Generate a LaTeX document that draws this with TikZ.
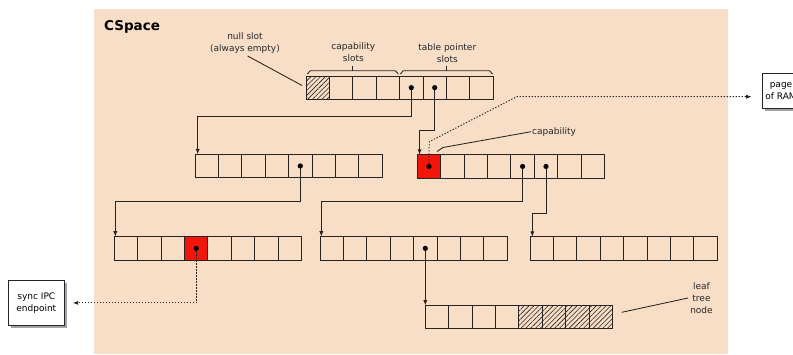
\documentclass[tikz,border=0pt]{standalone}
\usepackage{fontspec}
\setmainfont{DejaVu Sans}
\usetikzlibrary{arrows.meta,patterns.meta,shadows,calc}
\definecolor{bgc}{RGB}{249,222,199}
\definecolor{redc}{RGB}{240,22,10}
\definecolor{linec}{RGB}{40,35,33}
\tikzset{
  cell/.style={draw=linec, line width=0.85pt, minimum width=23.4pt, minimum height=23.3pt,
    inner sep=0pt, outer sep=0pt, anchor=north west},
  hatch/.style={pattern={Lines[angle=45,distance=3.4pt,line width=0.6pt]}, pattern color=linec},
  conn/.style={draw=linec, line width=0.95pt},
  arr/.style={conn, -{Latex[length=5.5pt,width=4.2pt]}},
  darr/.style={draw=linec, line width=1pt, dash pattern=on 1.2pt off 1.8pt, -{Latex[length=5.5pt,width=4.2pt]}},
  lead/.style={draw=linec, line width=0.85pt},
  lbl/.style={font=\fontsize{9}{12}\selectfont, align=center, inner sep=1pt, text=black!85},
  extbox/.style={draw=linec, line width=0.85pt, fill=white, font=\fontsize{9}{12}\selectfont,
    align=center, inner sep=0pt,
    drop shadow={shadow xshift=2.5pt, shadow yshift=-2.5pt, fill=black!60, opacity=0.6}},
}
\newcommand\slottable[3]{\foreach \i in {0,...,7}{\node[cell] (#1\i) at ({#2+\i*23.4},#3) {};}}
\begin{document}
\begin{tikzpicture}[x=1pt,y=-1pt]
\useasboundingbox (0,0) rectangle (793,354);
\fill[bgc] (93.5,9.3) rectangle (728,354);
\node[font=\fontsize{13.5}{16}\selectfont\bfseries, anchor=base west, inner sep=0pt] (title) at (104,30.3) {CSpace};

% tables
\slottable{ta}{306}{76}
\slottable{tb}{195}{154.3}
\slottable{tc}{417.3}{154.8}
\slottable{td}{114.3}{236.7}
\slottable{te}{320}{236.7}
\slottable{tf}{530}{236.8}
\slottable{tg}{425.3}{305.5}

% special cells
\node[cell, hatch] (h0) at (ta0.north west) {};
\node[cell, fill=redc] (r1) at (tc0.north west) {};
\node[cell, fill=redc] (r2) at (td3.north west) {};
\foreach \i in {4,...,7}{\node[cell, hatch] (hg\i) at (tg\i.north west) {};}

% external boxes
\node[extbox, minimum width=56pt, minimum height=44.3pt] (ipc) at (36.3,302.9) {sync IPC\\endpoint};
\node[extbox, minimum width=38pt, minimum height=34.7pt] (ram) at (781,90.7) {page\\of RAM};

% connectors
\coordinate (b1) at (197.7,116.7);
\draw[arr] (ta4.center) |- (b1) -- (b1 |- tb0.north);
\coordinate (b2) at (419.6,130.7);
\draw[arr] (ta5.center) |- (b2) -- (b2 |- tc0.north);
\coordinate (b3) at (115.3,201.7);
\draw[arr] (tb4.center) |- (b3) -- (b3 |- td0.north);
\coordinate (b4) at (321.3,201.7);
\draw[arr] (tc4.center) |- (b4) -- (b4 |- te0.north);
\coordinate (b5) at (532.3,213.3);
\draw[arr] (tc5.center) |- (b5) -- (b5 |- tf0.north);
\draw[arr] (te4.center) -- (te4.center |- tg0.north);

% dotted references
\draw[darr, shorten >=8pt] (td3.center) |- (ipc.east);
\coordinate (c1) at (429.3,141.7);
\coordinate (c2) at (516.7,96.7);
\draw[darr, shorten >=10pt] (tc0.center) -- (c1) -- (c2) -- (c2 -| ram.west);

% dots
\foreach \n in {ta4,ta5,tb4,tc0,tc4,tc5,td3,te4}{\fill[black] (\n.center) circle (2.6pt);}

% labels
\node[lbl] (nullLbl) at (245,43) {null slot\\(always empty)};
\draw[lead, shorten <=3pt, shorten >=4.5pt] (nullLbl.south) -- (ta0.west);
\node[lbl] (capSlots) at (353.3,52.5) {capability\\slots};
\node[lbl] (tpSlots) at (447.3,53) {table pointer\\slots};
\coordinate (br1) at (307.3,74);
\coordinate (br2) at (398.3,74);
\coordinate (br3) at (400.3,74);
\coordinate (br4) at (492.5,74);
\draw[lead] (br1) -- ++(3,-3.3) -- ($(br2)+(-3,-3.3)$) -- (br2);
\draw[lead] ($(br1)!0.5!(br2)+(0,-3.3)$) -- ++(0,-5);
\draw[lead] (br3) -- ++(3,-3.3) -- ($(br4)+(-3,-3.3)$) -- (br4);
\draw[lead] ($(br3)!0.5!(br4)+(0,-3.3)$) -- ++(0,-5);

\node[lbl, anchor=west] (capLbl) at (531,131.7) {capability};
\coordinate (capBend) at (443,147.5);
\coordinate (capEnd) at (437,151.5);
\draw[lead] (capLbl.west) -- (capBend) -- (capEnd);

\node[lbl] (leafLbl) at (701.5,298) {leaf\\tree\\node};
\coordinate (leafEnd) at (621.7,312.3);
\draw[lead] ($(leafLbl.west)+(-1,0)$) -- (leafEnd);
\end{tikzpicture}
\end{document}
